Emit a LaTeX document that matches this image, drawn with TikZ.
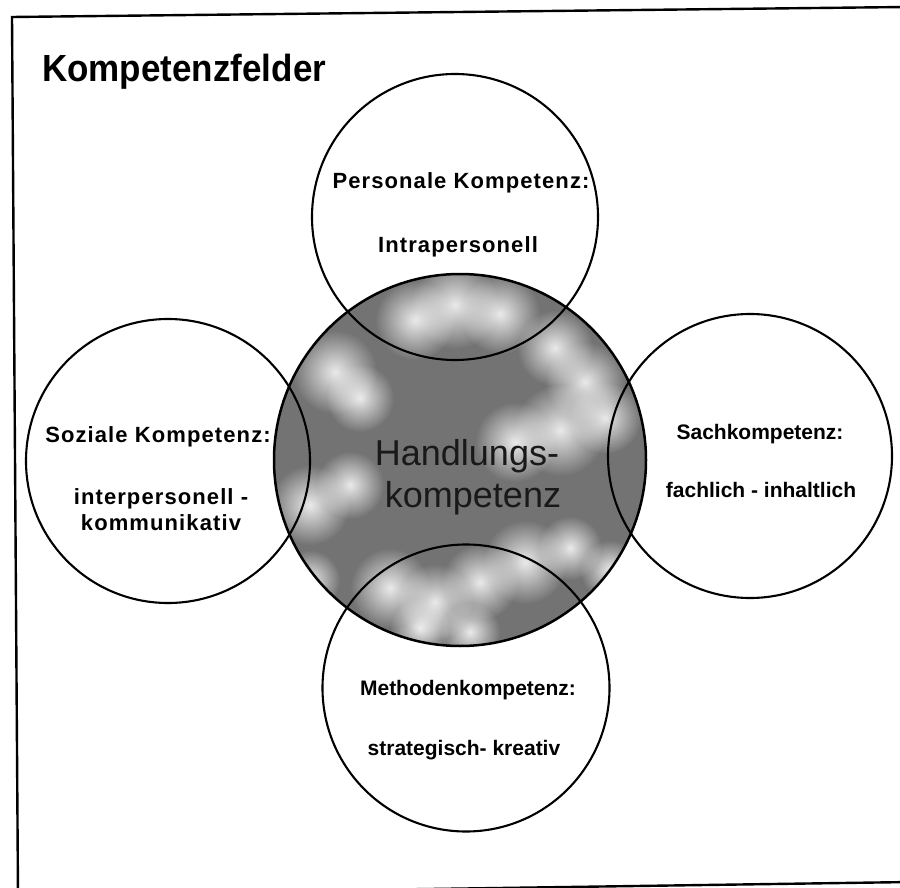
\documentclass[tikz,border=0pt]{standalone}
\usepackage{fontspec}
\setmainfont{Liberation Sans}
\newfontfamily\labA[LetterSpace=5]{Liberation Sans}
\usetikzlibrary{fadings}
\tikzfading[name=softblob, inner color=transparent!15, outer color=transparent!100]
\begin{document}
\begin{tikzpicture}[x=1pt,y=-1pt,
  ring/.style={circle, draw=black, line width=2.1pt, inner sep=0pt, outer sep=0pt},
  lblA/.style={anchor=base, inner sep=0pt, font=\labA\bfseries\fontsize{22}{26}\selectfont},
  lblB/.style={anchor=base, inner sep=0pt, font=\bfseries\fontsize{21}{25}\selectfont},
  coretext/.style={anchor=base, inner sep=0pt, font=\fontsize{36}{40}\selectfont, text=black!90},
  blob/.style={fill=white, path fading=softblob, fit fading=true},
]
\clip (0,0) rectangle (900,888);
\fill[white] (0,0) rectangle (900,888);
% frame
\draw[line width=2.4pt, line join=miter] (12,17) -- (905,7) -- (911,882) -- (18,895) -- cycle;
% central circle with marbled fill
\fill[black!55] (460,460) circle [radius=186pt];
\begin{scope}
  \clip (460,460) circle [radius=186pt];
  \foreach \dx/\dy/\r in {-45/-140/40, -5/-155/44, 40/-146/40,
      -125/-88/42, -100/-62/34,
      95/-112/38, 125/-78/40,
      -150/45/40, -110/25/34, 55/-18/40, 100/-30/46, 145/-42/36,
      -70/128/40, -25/142/38, 20/122/38, 65/102/42, 110/88/32,
      -40/168/30, 10/172/30, -150/120/30, 150/110/30} {
    \fill[blob] (460+\dx,460+\dy) circle [radius=\r pt];
  }
\end{scope}
\node[ring, minimum size=372pt, line width=2.5pt] (core) at (460,460) {};
% outer circles
\node[ring, minimum size=286pt] (pers) at (455,217) {};
\node[ring, minimum size=284pt] (soz) at (168,461) {};
\node[ring, minimum size=284pt] (sach) at (750,456) {};
\node[ring, minimum size=287pt] (meth) at (466,688) {};
% title
\node[anchor=base west, inner sep=0pt, font=\bfseries\fontsize{35}{40}\selectfont, yscale=1.08] (title) at (42,82) {Kompetenzfelder};
% labels
\node[lblA] (persA) at (461,189) {Personale Kompetenz:};
\node[lblA] (persB) at (458,252) {Intrapersonell};
\node[lblA] (sozA) at (158,442) {Soziale Kompetenz:};
\node[lblA] (sozB) at (161,504) {interpersonell -};
\node[lblA] (sozC) at (161,530) {kommunikativ};
\node[lblB] (sachA) at (760,439) {Sachkompetenz:};
\node[lblB] (sachB) at (761,497) {fachlich - inhaltlich};
\node[lblB] (methA) at (468,695) {Methodenkompetenz:};
\node[lblB] (methB) at (464,755) {strategisch- kreativ};
\node[coretext] (coreA) at (467,465) {Handlungs-};
\node[coretext] (coreB) at (473,507) {kompetenz};
\end{tikzpicture}
\end{document}
